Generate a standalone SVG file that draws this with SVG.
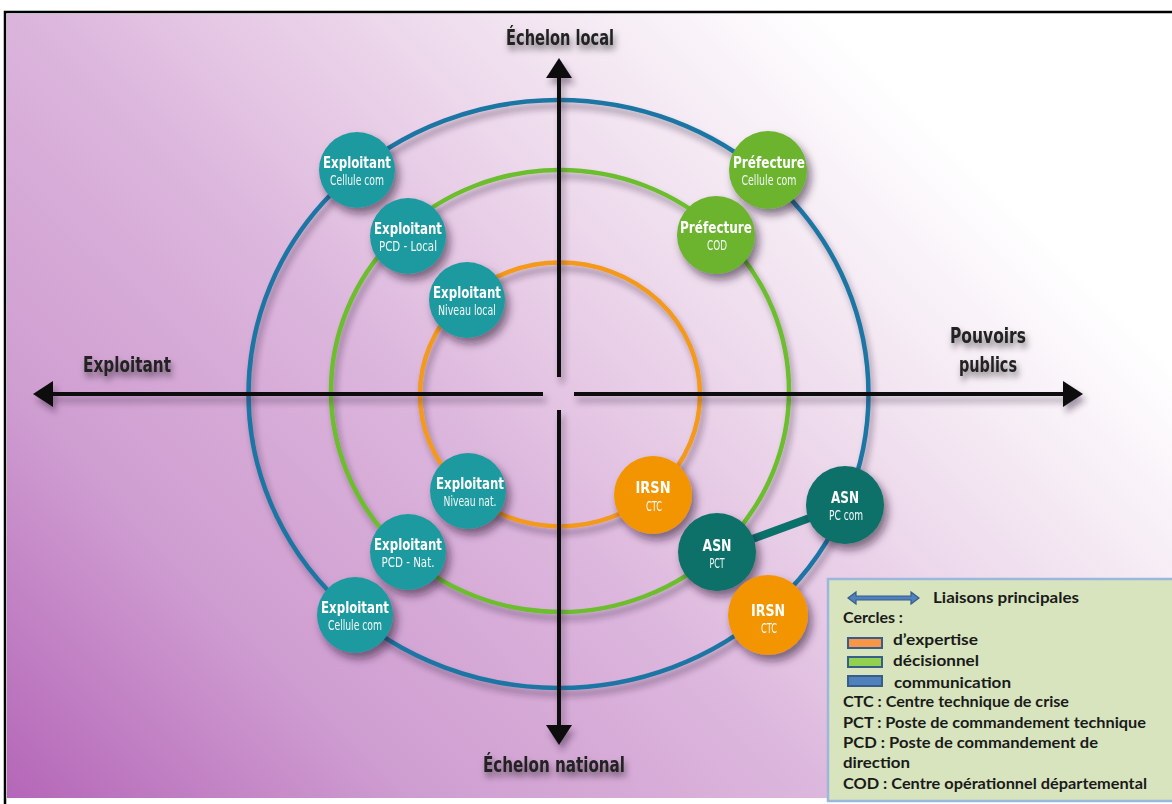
<svg xmlns="http://www.w3.org/2000/svg" width="1172" height="804" viewBox="0 0 1172 804">
<defs>
<linearGradient id="bg" gradientUnits="userSpaceOnUse" x1="0" y1="800" x2="820" y2="-20">
<stop offset="0" stop-color="#B465B7"/>
<stop offset="0.26" stop-color="#CF9ED1"/>
<stop offset="0.36" stop-color="#D4A7D5"/>
<stop offset="0.5" stop-color="#DCB6DD"/>
<stop offset="0.6" stop-color="#E5C7E4"/>
<stop offset="0.82" stop-color="#F4E9F3"/>
<stop offset="0.98" stop-color="#FFFFFF"/>
</linearGradient>
<filter id="sh" x="-30%" y="-30%" width="160%" height="160%">
<feDropShadow dx="4" dy="6" stdDeviation="4" flood-color="#2a1030" flood-opacity="0.55"/>
</filter>
<filter id="lsh" x="-20%" y="-20%" width="140%" height="140%">
<feDropShadow dx="3" dy="6" stdDeviation="3" flood-color="#3a2040" flood-opacity="0.45"/>
</filter>
<filter id="tsh" x="-20%" y="-40%" width="140%" height="200%">
<feDropShadow dx="2" dy="5" stdDeviation="3" flood-color="#000000" flood-opacity="0.5"/>
</filter>
<marker id="ah" viewBox="0 0 20 26" refX="2" refY="13" markerWidth="20" markerHeight="26" markerUnits="userSpaceOnUse" orient="auto">
<path d="M0,0 L20,13 L0,26 Z" fill="#111"/>
</marker>
</defs>
<style>
.ring{fill:none;stroke-width:4.5}
.axis{stroke:#111;stroke-width:4;fill:none}
.ttl{font-family:"DejaVu Sans Condensed","DejaVu Sans",sans-serif;font-weight:bold;font-size:16px;fill:#fff;text-anchor:middle}
.sub{font-family:"DejaVu Sans Condensed","DejaVu Sans",sans-serif;font-size:14px;fill:#F2F8F8;text-anchor:middle}
.alab{font-family:"DejaVu Sans Condensed","DejaVu Sans",sans-serif;font-weight:bold;font-size:21px;fill:#222;text-anchor:middle}
.leg{font-family:Lato,"Open Sans",sans-serif;font-weight:bold;font-size:15px;fill:#1a1a1a}
.sw{stroke:#385D8A;stroke-width:2}
.teal{fill:#1F9AA0}
.green{fill:#6CB32D}
.orange{fill:#F29500}
.dteal{fill:#0B716B}
</style>
<rect x="5" y="12" width="1170" height="800" fill="#ffffff" stroke="#000" stroke-width="2.5"/>
<rect x="7" y="14" width="1166" height="784" fill="url(#bg)"/>

<g id="rings" filter="url(#lsh)">
<ellipse class="ring" cx="558.5" cy="394" rx="310" ry="294" stroke="#1B76A3"/>
<ellipse class="ring" cx="560" cy="391" rx="229" ry="221" stroke="#6DBE2D"/>
<ellipse class="ring" cx="560" cy="394.5" rx="140" ry="132" stroke="#F39A1B"/>
</g>

<g id="axes" filter="url(#lsh)">
<line class="axis" x1="559" y1="377" x2="559" y2="76" marker-end="url(#ah)"/>
<line class="axis" x1="559" y1="410" x2="559" y2="727" marker-end="url(#ah)"/>
<line class="axis" x1="543" y1="394" x2="51" y2="394" marker-end="url(#ah)"/>
<line class="axis" x1="574" y1="394" x2="1065" y2="394" marker-end="url(#ah)"/>
</g>

<g id="connectors">
<line x1="717" y1="552" x2="845" y2="505" stroke="#0B716B" stroke-width="8"/>
</g>

<g id="node-expl-com-local" filter="url(#sh)">
<circle class="teal" cx="357" cy="170" r="38"/>
<text class="ttl" x="357" y="168" textLength="68" lengthAdjust="spacingAndGlyphs">Exploitant</text>
<text class="sub" x="357" y="185" textLength="54" lengthAdjust="spacingAndGlyphs">Cellule com</text>
</g>
<g id="node-expl-pcd-local" filter="url(#sh)">
<circle class="teal" cx="408" cy="236" r="38"/>
<text class="ttl" x="408" y="234" textLength="68" lengthAdjust="spacingAndGlyphs">Exploitant</text>
<text class="sub" x="408" y="251" textLength="58" lengthAdjust="spacingAndGlyphs">PCD - Local</text>
</g>
<g id="node-expl-niv-local" filter="url(#sh)">
<circle class="teal" cx="467" cy="300" r="38"/>
<text class="ttl" x="467" y="298" textLength="68" lengthAdjust="spacingAndGlyphs">Exploitant</text>
<text class="sub" x="467" y="315" textLength="58" lengthAdjust="spacingAndGlyphs">Niveau local</text>
</g>
<g id="node-pref-com" filter="url(#sh)">
<circle class="green" cx="768" cy="170" r="39"/>
<text class="ttl" x="769" y="168" textLength="72" lengthAdjust="spacingAndGlyphs">Préfecture</text>
<text class="sub" x="769" y="185" textLength="55" lengthAdjust="spacingAndGlyphs">Cellule com</text>
</g>
<g id="node-pref-cod" filter="url(#sh)">
<circle class="green" cx="716" cy="235" r="39"/>
<text class="ttl" x="716" y="233" textLength="72" lengthAdjust="spacingAndGlyphs">Préfecture</text>
<text class="sub" x="717" y="250" textLength="20" lengthAdjust="spacingAndGlyphs">COD</text>
</g>
<g id="node-expl-niv-nat" filter="url(#sh)">
<circle class="teal" cx="468" cy="491" r="38"/>
<text class="ttl" x="470" y="489" textLength="68" lengthAdjust="spacingAndGlyphs">Exploitant</text>
<text class="sub" x="470" y="506" textLength="53" lengthAdjust="spacingAndGlyphs">Niveau nat.</text>
</g>
<g id="node-expl-pcd-nat" filter="url(#sh)">
<circle class="teal" cx="408" cy="552" r="38"/>
<text class="ttl" x="408" y="550" textLength="68" lengthAdjust="spacingAndGlyphs">Exploitant</text>
<text class="sub" x="408" y="567" textLength="53" lengthAdjust="spacingAndGlyphs">PCD - Nat.</text>
</g>
<g id="node-expl-com-nat" filter="url(#sh)">
<circle class="teal" cx="355" cy="615" r="38"/>
<text class="ttl" x="355" y="613" textLength="68" lengthAdjust="spacingAndGlyphs">Exploitant</text>
<text class="sub" x="355" y="630" textLength="54" lengthAdjust="spacingAndGlyphs">Cellule com</text>
</g>
<g id="node-irsn-ctc-1" filter="url(#sh)">
<circle class="orange" cx="653" cy="495" r="39"/>
<text class="ttl" x="653" y="493" textLength="35" lengthAdjust="spacingAndGlyphs">IRSN</text>
<text class="sub" x="654" y="511" textLength="16" lengthAdjust="spacingAndGlyphs">CTC</text>
</g>
<g id="node-asn-pct" filter="url(#sh)">
<circle class="dteal" cx="717" cy="552" r="39"/>
<text class="ttl" x="717" y="551" textLength="29" lengthAdjust="spacingAndGlyphs">ASN</text>
<text class="sub" x="717" y="568" textLength="15" lengthAdjust="spacingAndGlyphs">PCT</text>
</g>
<g id="node-asn-pccom" filter="url(#sh)">
<circle class="dteal" cx="845" cy="505" r="39"/>
<text class="ttl" x="845" y="503" textLength="28" lengthAdjust="spacingAndGlyphs">ASN</text>
<text class="sub" x="846" y="520" textLength="34" lengthAdjust="spacingAndGlyphs">PC com</text>
</g>
<g id="node-irsn-ctc-2" filter="url(#sh)">
<circle class="orange" cx="768" cy="615" r="40"/>
<text class="ttl" x="768" y="616" textLength="34" lengthAdjust="spacingAndGlyphs">IRSN</text>
<text class="sub" x="769" y="633" textLength="16" lengthAdjust="spacingAndGlyphs">CTC</text>
</g>

<g id="axis-labels" filter="url(#tsh)">
<text class="alab" x="560" y="45" textLength="108" lengthAdjust="spacingAndGlyphs">Échelon local</text>
<text class="alab" x="554" y="772" textLength="142" lengthAdjust="spacingAndGlyphs">Échelon national</text>
<text class="alab" x="127" y="372" textLength="88" lengthAdjust="spacingAndGlyphs">Exploitant</text>
<text class="alab" x="988" y="343" textLength="76" lengthAdjust="spacingAndGlyphs">Pouvoirs</text>
<text class="alab" x="988" y="372" textLength="58" lengthAdjust="spacingAndGlyphs">publics</text>
</g>

<g id="legend">
<rect x="828" y="579" width="346" height="222" fill="#D7E4BD" stroke="#9BB7DD" stroke-width="2.5"/>
<path d="M848,598 L856,592 L856,596 L911,596 L911,592 L919,598 L911,604 L911,600 L856,600 L856,604 Z" fill="#4F81BD" stroke="#385D8A" stroke-width="1.2"/>
<text class="leg" x="933" y="603" textLength="146" lengthAdjust="spacingAndGlyphs">Liaisons principales</text>
<text class="leg" x="843" y="623" textLength="60" lengthAdjust="spacingAndGlyphs">Cercles :</text>
<rect class="sw" x="848" y="638" width="34" height="10" fill="#F79646"/>
<text class="leg" x="893" y="645" textLength="85" lengthAdjust="spacingAndGlyphs">d’expertise</text>
<rect class="sw" x="848" y="657" width="34" height="10" fill="#92D050"/>
<text class="leg" x="893" y="666" textLength="86" lengthAdjust="spacingAndGlyphs">décisionnel</text>
<rect class="sw" x="848" y="676" width="34" height="10" fill="#4F81BD"/>
<text class="leg" x="894" y="688" textLength="117" lengthAdjust="spacingAndGlyphs">communication</text>
<text class="leg" x="843" y="707" textLength="226" lengthAdjust="spacingAndGlyphs">CTC : Centre technique de crise</text>
<text class="leg" x="843" y="728" textLength="303" lengthAdjust="spacingAndGlyphs">PCT : Poste de commandement technique</text>
<text class="leg" x="843" y="748" textLength="255" lengthAdjust="spacingAndGlyphs">PCD : Poste de  commandement de</text>
<text class="leg" x="843" y="768" textLength="67" lengthAdjust="spacingAndGlyphs">direction</text>
<text class="leg" x="843" y="789" textLength="304" lengthAdjust="spacingAndGlyphs">COD : Centre opérationnel départemental</text>
</g>
</svg>
